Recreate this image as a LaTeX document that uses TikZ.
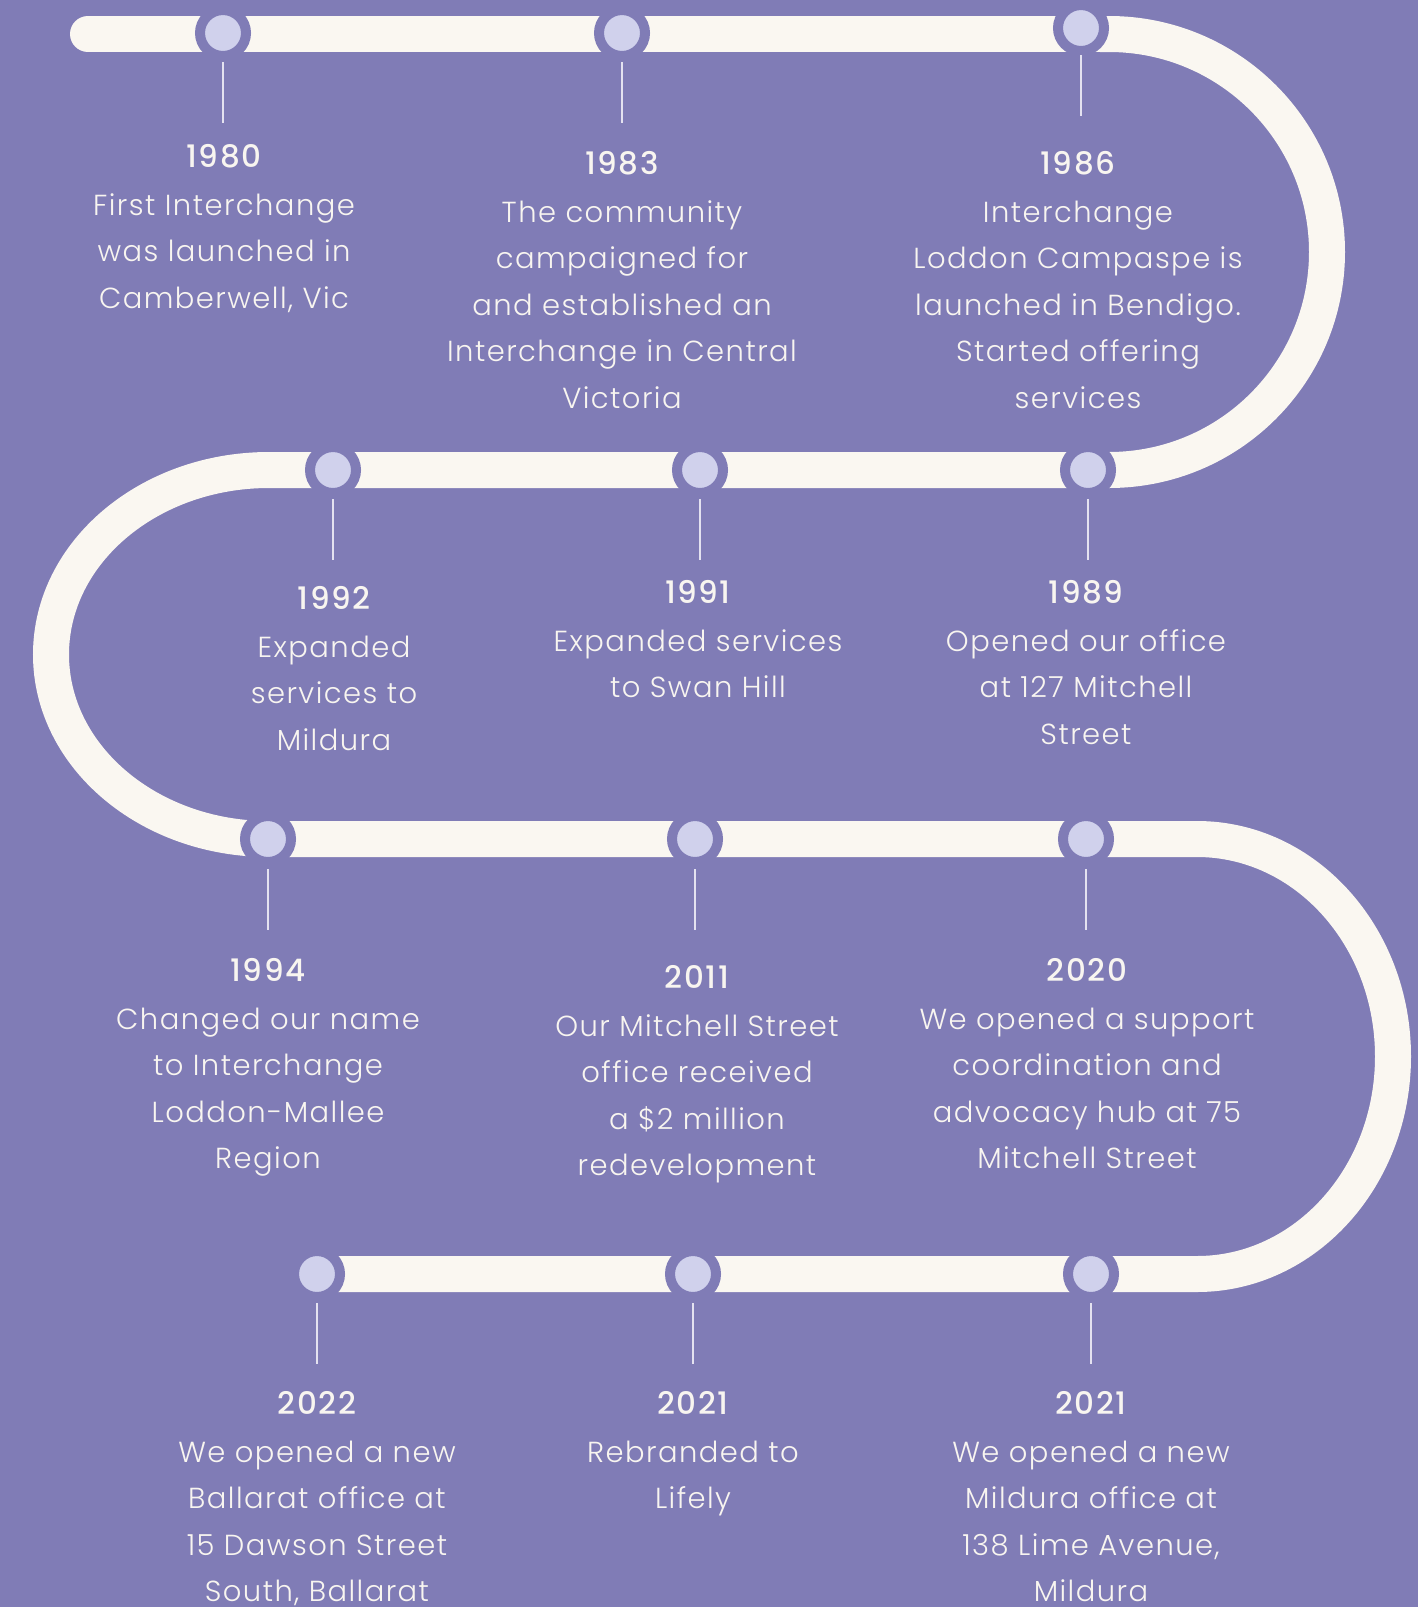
\documentclass[tikz,border=0pt]{standalone}
\usepackage{fontspec}
\setmainfont{Poppins}[UprightFont={* Light},BoldFont={* Medium},LetterSpace=5]
\definecolor{bgc}{HTML}{807CB6}
\definecolor{barc}{HTML}{FAF7F1}
\definecolor{dotc}{HTML}{D0D1EC}
\definecolor{txtc}{HTML}{F8F5F0}
\definecolor{tickc}{HTML}{E4E2F0}
\newcommand\yrfont{\fontsize{31}{46.5}\selectfont\bfseries}
\newcommand\ev[2]{\setlength\tabcolsep{0pt}\begin{tabular}[t]{c}{\yrfont #1}\\[1.5pt] #2\end{tabular}}
\tikzset{
  bar/.style={draw=barc, line width=36pt},
  dot/.style={circle, fill=dotc, draw=bgc, line width=10pt, minimum size=46pt, inner sep=0pt},
  tickline/.style={draw=tickc, line width=2pt},
  evtext/.style={anchor=base, inner sep=0pt, text=txtc, font=\fontsize{29}{46.5}\selectfont}
}
\begin{document}
\begin{tikzpicture}[x=1pt,y=-1pt]
\fill[bgc] (0,0) rectangle (1418,1607);
\useasboundingbox (0,0) rectangle (1418,1607);
\clip (0,0) rectangle (1418,1607);
% serpentine track
\draw[bar, line cap=round] (88,34) -- (1109,34);
\draw[bar] (1100,34) -- (1109,34) arc[start angle=-90, end angle=90, radius=218]
  -- (269,470) arc[start angle=270, end angle=90, x radius=218, y radius=184.5]
  -- (1197,839) arc[start angle=-90, end angle=90, x radius=196, y radius=217.5]
  -- (317,1274);
% dots
\node[dot] (d1980) at (223,33) {};
\node[dot] (d1983) at (622,33) {};
\node[dot] (d1986) at (1081,28) {};
\node[dot] (d1992) at (333,470) {};
\node[dot] (d1991) at (700,470) {};
\node[dot] (d1989) at (1088,470) {};
\node[dot] (d1994) at (268,839) {};
\node[dot] (d2011) at (695,839) {};
\node[dot] (d2020) at (1086,839) {};
\node[dot] (d2022) at (317,1274) {};
\node[dot] (d2021a) at (693,1274) {};
\node[dot] (d2021b) at (1091,1274) {};
% texts
\node[evtext] (t1980) at (224,167) {\ev{1980}{First Interchange\\ was launched in\\ Camberwell, Vic}};
\node[evtext] (t1983) at (622,174) {\ev{1983}{The community\\ campaigned for\\ and established an\\ Interchange in Central\\ Victoria}};
\node[evtext] (t1986) at (1078,174) {\ev{1986}{Interchange\\ Loddon Campaspe is\\ launched in Bendigo.\\ Started offering\\ services}};
\node[evtext] (t1992) at (334,609) {\ev{1992}{Expanded\\ services to\\ Mildura}};
\node[evtext] (t1991) at (698,603) {\ev{1991}{Expanded services\\ to Swan Hill}};
\node[evtext] (t1989) at (1086,603) {\ev{1989}{Opened our office\\ at 127 Mitchell\\ Street}};
\node[evtext] (t1994) at (268,981) {\ev{1994}{Changed our name\\ to Interchange\\ Loddon-Mallee\\ Region}};
\node[evtext] (t2011) at (697,988) {\ev{2011}{Our Mitchell Street\\ office received\\ a \$2 million\\ redevelopment}};
\node[evtext] (t2020) at (1087,981) {\ev{2020}{We opened a support\\ coordination and\\ advocacy hub at 75\\ Mitchell Street}};
\node[evtext] (t2022) at (317,1414) {\ev{2022}{We opened a new\\ Ballarat office at\\ 15 Dawson Street\\ South, Ballarat}};
\node[evtext] (t2021a) at (693,1414) {\ev{2021}{Rebranded to\\ Lifely}};
\node[evtext] (t2021b) at (1091,1414) {\ev{2021}{We opened a new\\ Mildura office at\\ 138 Lime Avenue,\\ Mildura}};
% ticks
\foreach \d/\l in {d1980/62, d1983/62, d1986/55, d1992/499, d1991/499, d1989/499, d1994/869, d2011/869, d2020/869, d2022/1303, d2021a/1303, d2021b/1303}{
  \draw[tickline] (\d |- 0,\l) -- ++(0,61);
}
\end{tikzpicture}
\end{document}
